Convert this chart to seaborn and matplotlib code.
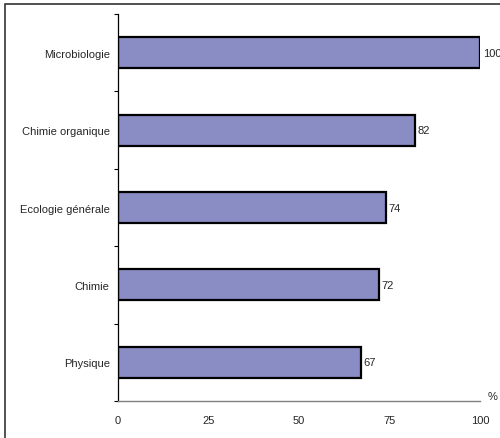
import matplotlib
matplotlib.use('Agg')
import pandas as pd
import seaborn as sns
import matplotlib.pyplot as plt
from matplotlib.patches import Rectangle

# data
subjects = ['Microbiologie', 'Chimie organique', 'Ecologie générale', 'Chimie', 'Physique']
scores = [100, 82, 74, 72, 67]
x_ticks = [0, 25, 50, 75, 100]

df = pd.DataFrame({'Matière': subjects, 'Score': scores})

sns.set_style('white')
plt.rcParams['font.family'] = ['Liberation Sans', 'DejaVu Sans']

fig = plt.figure(figsize=(5.0, 4.39), dpi=100)
ax = fig.add_axes([0.236, 0.0843, 0.724, 0.8815])

sns.barplot(data=df, y='Matière', x='Score', orient='h', color='#8A8CC4',
            saturation=1, width=0.4, edgecolor='black', linewidth=1.6, ax=ax)

ax.set_xlim(0, 100)
ax.set_ylim(len(subjects) - 0.5, -0.5)
ax.set_xticks(x_ticks)
ax.set_xticklabels([str(t) for t in x_ticks], fontsize=8)
ax.set_yticks(range(len(subjects)))
ax.set_yticklabels(subjects, fontsize=8)
ax.tick_params(axis='y', length=0, pad=6)
ax.tick_params(axis='x', length=3, width=0.8, color='black', pad=7)
# category boundary ticks on the y axis
ax.set_yticks([i - 0.5 for i in range(len(subjects) + 1)], minor=True)
ax.tick_params(axis='y', which='minor', length=3, width=0.8, color='black', left=True)
ax.set_xlabel('')
ax.set_ylabel('')

for side in ['top', 'right']:
    ax.spines[side].set_visible(False)
ax.spines['left'].set_color('black')
ax.spines['left'].set_linewidth(0.9)
ax.spines['bottom'].set_color('#808080')
ax.spines['bottom'].set_linewidth(1.0)

for i, v in enumerate(scores):
    ax.text(v + 0.8, i, str(v), va='center', ha='left', fontsize=8)

ax.text(1.02, 0.0, '%', transform=ax.transAxes, fontsize=8, ha='left', va='bottom')

# outer frame (only left and top edges are visible in the reference)
fig.patches.append(Rectangle((5 / 500, -0.1), 1.2, 1.1 - 5 / 439,
                             transform=fig.transFigure, fill=False,
                             edgecolor='#333333', linewidth=1.2))

fig.savefig('out.png', dpi=100)
